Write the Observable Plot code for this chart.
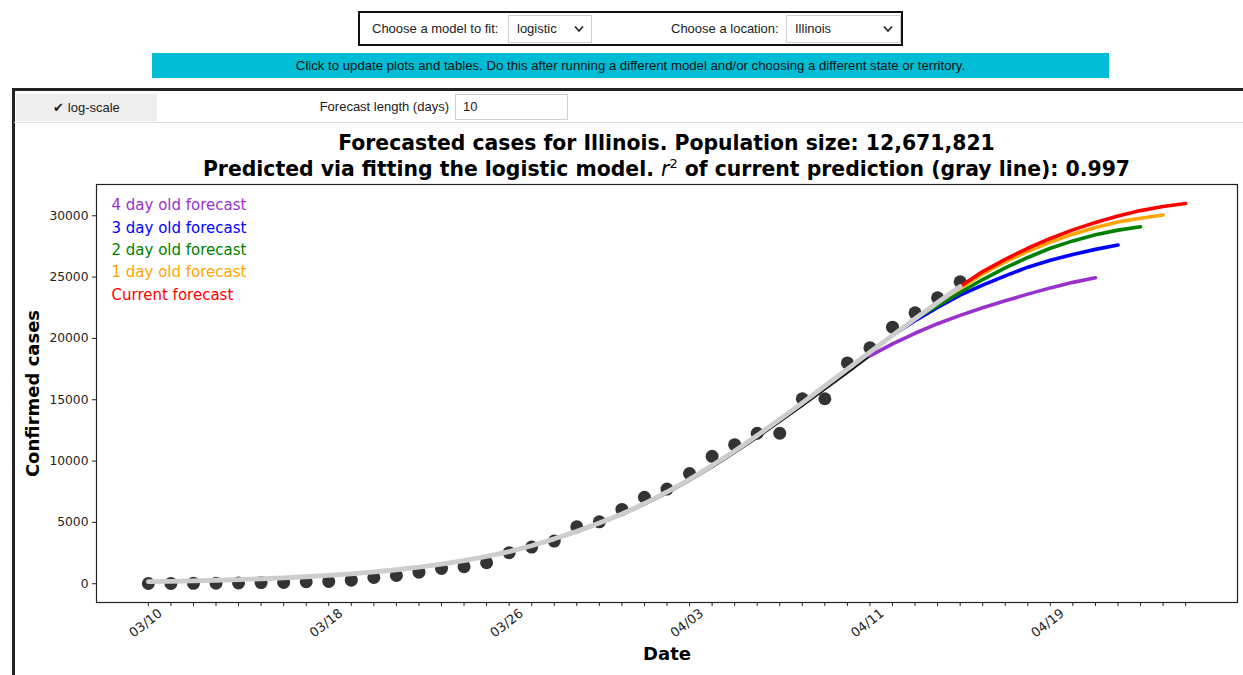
<!DOCTYPE html>
<html>
<head>
<meta charset="utf-8">
<script src="https://cdn.jsdelivr.net/npm/d3@7"></script>
<script src="https://cdn.jsdelivr.net/npm/@observablehq/plot@0.6"></script>
<style>
html,body{margin:0;padding:0;background:#fff}
body{width:1243px;height:675px;position:relative;overflow:hidden;font-family:"Liberation Sans",Arial,sans-serif;color:#222}
.a{position:absolute;box-sizing:border-box;white-space:nowrap}
#wbox{left:358px;top:11px;width:545px;height:35px;border:2px solid #111}
.lbl{font-size:13px;line-height:16px}
.sel{border:1px solid #cfcfcf;background:#fff;font-size:13px;padding-left:8px;line-height:26px;height:28px;top:2px}
.chev{position:absolute;right:7px;top:9px}
#btn{left:152px;top:53px;width:957px;height:25px;background:#00bcd4;font-size:13.2px;text-align:center;line-height:25px;color:#111}
#outL{left:12px;top:88px;width:2.5px;height:600px;background:#222}
#outT{left:12px;top:88px;width:1240px;height:3px;background:#222}
#tog{left:16px;top:94px;width:141px;height:27px;background:#eee;font-size:13px;text-align:center;line-height:27px}
#flbl{left:250px;top:99px;width:199px;text-align:right}
#finp{left:455px;top:94px;width:113px;height:26px;border:1px solid #cfcfcf;font-size:13px;line-height:24px;padding-left:7px}
#sep{left:14px;top:122px;width:1229px;height:1px;background:#ddd}
.title{left:0;width:1333px;text-align:center;font-family:"DejaVu Sans",sans-serif;font-weight:bold;font-size:20.4px;color:#000;line-height:24px}
#chart{left:14px;top:180px}
</style>
</head>
<body>
<div class="a" id="wbox">
  <div class="a lbl" style="left:12px;top:8px">Choose a model to fit:</div>
  <div class="a sel" style="left:148px;width:84px">logistic<svg class="chev" width="10" height="8"><polyline points="1,1.5 5,6 9,1.5" fill="none" stroke="#222" stroke-width="1.6"/></svg></div>
  <div class="a lbl" style="left:311px;top:8px">Choose a location:</div>
  <div class="a sel" style="left:426px;width:115px">Illinois<svg class="chev" width="10" height="8"><polyline points="1,1.5 5,6 9,1.5" fill="none" stroke="#222" stroke-width="1.6"/></svg></div>
</div>
<div class="a" id="btn">Click to update plots and tables. Do this after running a different model and/or choosing a different state or territory.</div>
<div class="a" id="outT"></div>
<div class="a" id="outL"></div>
<div class="a" id="tog">✔ log-scale</div>
<div class="a lbl" id="flbl">Forecast length (days)</div>
<div class="a" id="finp">10</div>
<div class="a" id="sep"></div>
<div class="a title" style="top:131px">Forecasted cases for Illinois. Population size: 12,671,821</div>
<div class="a title" style="top:157px">Predicted via fitting the logistic model. <i style="font-weight:normal">r</i><sup style="font-size:13px;font-weight:normal;vertical-align:8px;line-height:0">2</sup> of current prediction (gray line): 0.997</div>
<div class="a" id="chart"></div>
<script>
const DAY = 864e5;
const obsStart = "2020-03-10";
// observed confirmed cases, daily from 03/10 to 04/15
const cases = [19,25,32,46,64,93,105,160,190,290,510,670,940,1250,1390,1710,2530,2990,3480,4640,5050,6060,7050,7720,8980,10390,11340,12270,12270,15080,15080,18000,19230,20920,22090,23310,24620];
// current fit (gray line), daily from 03/10 to 04/15
const currentFit = [170,200,240,285,340,405,480,570,680,810,960,1140,1350,1600,1890,2230,2620,3100,3660,4270,4950,5690,6540,7480,8510,9630,10830,12090,13400,14750,16120,17500,18880,20250,21600,22930,24230];
// fit of the oldest forecast on training dates (black line), 03/10 to 04/11
const oldFit = [155,185,225,270,325,390,465,555,665,795,945,1120,1325,1570,1855,2190,2575,3050,3605,4210,4880,5610,6450,7380,8395,9500,10680,11915,13200,14520,15860,17210,18580];
// forecasts (10 days each)
const fc4 = [18580,19550,20420,21200,21880,22500,23070,23610,24120,24570,24940];
const fc3 = [20250,21450,22530,23530,24350,25100,25810,26370,26850,27260,27610];
const fc2 = [21600,22650,23750,24800,25750,26600,27350,27950,28450,28830,29100];
const fc1 = [22930,24100,25250,26250,27100,27850,28500,29050,29500,29800,30060];
const fc0 = [24230,25450,26450,27350,28150,28850,29450,29980,30420,30750,31000];
const fcStarts = ["2020-04-11","2020-04-12","2020-04-13","2020-04-14","2020-04-15"];
const fcLabels = ["4 day old forecast","3 day old forecast","2 day old forecast","1 day old forecast","Current forecast"];
const fcColors = ["#9932cc","#0000ff","#008000","#ffa500","#ff0000"];
const yTicks = [0,5000,10000,15000,20000,25000,30000];
const tickStepDays = 8;

const series = (start, values, name) => values.map((v, i) => ({date: new Date(Date.parse(start) + i * DAY), value: v, name}));
const obs = series(obsStart, cases, "obs");
const gray = series(obsStart, currentFit, "fit");
const black = series(obsStart, oldFit, "old");
const fcs = [fc4, fc3, fc2, fc1, fc0].map((v, k) => series(fcStarts[k], v, fcLabels[k]));
const all = [obs, gray, black, ...fcs].flat();

const [x0, x1] = d3.extent(all, d => d.date);
const xp = (x1 - x0) * 0.05;
const [y0, y1] = d3.extent(all, d => d.value);
const yp = (y1 - y0) * 0.05;

const days = d3.utcDay.range(x0, new Date(+x1 + 1));
const majors = days.filter((d, i) => i % tickStepDays === 0);

const plot = Plot.plot({
  width: 1229, height: 495,
  marginLeft: 82, marginRight: 6, marginTop: 4, marginBottom: 73,
  style: {fontFamily: "DejaVu Sans, sans-serif", fontSize: "12px", color: "#222", background: "transparent"},
  x: {type: "utc", domain: [new Date(+x0 - xp), new Date(+x1 + xp)]},
  y: {domain: [y0 - yp, y1 + yp]},
  marks: [
    Plot.axisY({ticks: yTicks, tickSize: 4, tickPadding: 4, tickFormat: d3.format("d"), label: null, fontSize: 12.3}),
    Plot.axisX({ticks: days, tickSize: 4, tickFormat: () => "", label: null}),
    Plot.text(majors, {x: d => d, frameAnchor: "bottom", dy: 24, rotate: -38, text: d3.utcFormat("%m/%d"), fontSize: 13, fill: "#222"}),
    Plot.dot(obs, {x: "date", y: "value", r: 6.5, fill: "#333", stroke: "none"}),
    Plot.line(black, {x: "date", y: "value", stroke: "#111", strokeWidth: 2.5}),
    ...fcs.map((s, k) => Plot.line(s, {x: "date", y: "value", stroke: fcColors[k], strokeWidth: 3.6})),
    Plot.line(gray, {x: "date", y: "value", stroke: "#cdcdcd", strokeWidth: 4.8}),
    ...fcLabels.map((t, k) => Plot.text([t], {frameAnchor: "top-left", dx: 15, dy: 21 + k * 22.3, fill: fcColors[k], fontSize: 15, textAnchor: "start", lineAnchor: "middle"})),
    Plot.text(["Date"], {frameAnchor: "bottom", dy: 57, fontSize: 18, fontWeight: "bold", fill: "#000"}),
    Plot.text(["Confirmed cases"], {frameAnchor: "left", dx: -63, rotate: -90, fontSize: 18, fontWeight: "bold", fill: "#000", textAnchor: "middle"}),
    Plot.frame({stroke: "#222", strokeWidth: 1.2})
  ]
});
document.getElementById("chart").appendChild(plot);
</script>
</body>
</html>
